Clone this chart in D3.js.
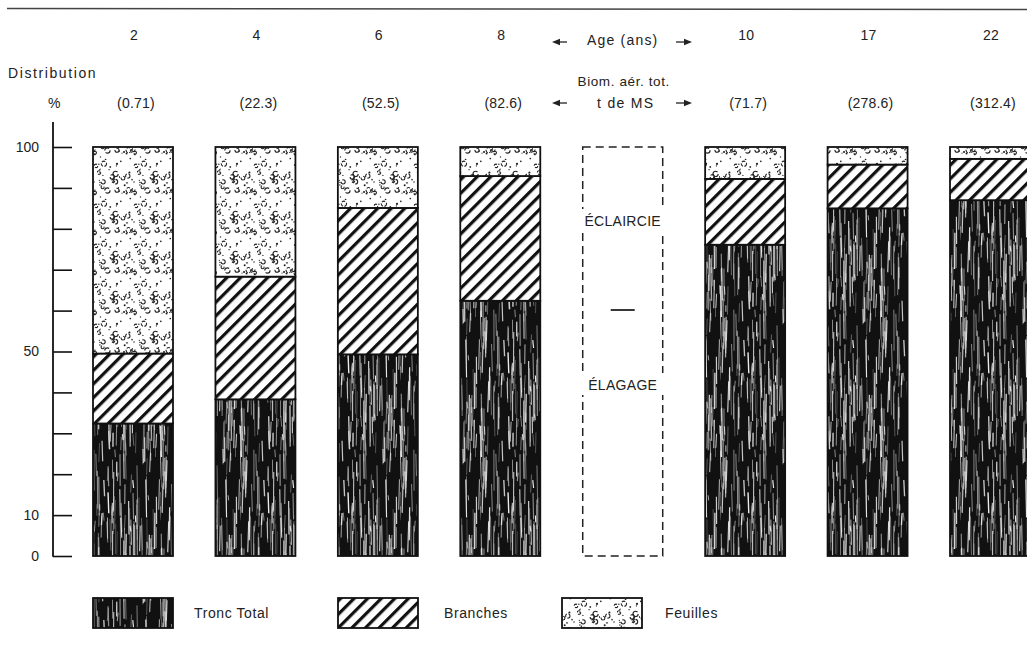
<!DOCTYPE html>
<html><head><meta charset="utf-8">
<script src="https://cdn.jsdelivr.net/npm/d3@7"></script>
<style>
body{margin:0;background:#fff;}
text{font-family:"Liberation Sans",Arial,Helvetica,sans-serif;fill:#222;}
</style></head>
<body>
<svg id="chart" width="1027" height="645"></svg>
<script>
// ---- data ----
const ages = ["2","4","6","8","10","17","22"];
const biomass = ["(0.71)","(22.3)","(52.5)","(82.6)","(71.7)","(278.6)","(312.4)"];
const tronc = [32.4, 38.3, 49.3, 62.4, 76.1, 85.0, 87.0];
const branches = [17.1, 30.0, 35.8, 30.5, 16.1, 10.7, 10.1];
const feuilles = [50.5, 31.7, 14.9, 7.1, 7.8, 4.3, 2.9];
const slots = ["2","4","6","8","gap","10","17","22"];
const yTicks = [0,10,20,30,40,50,60,70,80,90,100];
const yLabels = [0,10,50,100];
const seriesKeys = ["tronc","branches","feuilles"];
const legendLabels = ["Tronc Total","Branches","Feuilles"];

const rows = ages.map((a,i)=>({age:a, tronc:tronc[i], branches:branches[i], feuilles:feuilles[i]}));

const svg = d3.select("#chart");
svg.append("rect").attr("width",1027).attr("height",645).attr("fill","#fff");

// ---- patterns ----
const defs = svg.append("defs");
let seed = 7;
function rnd(){ seed = (seed*16807) % 2147483647; return (seed-1)/2147483646; }

// bark (tronc)
const pT = defs.append("pattern").attr("id","pTronc").attr("patternUnits","userSpaceOnUse")
  .attr("width",80).attr("height",140);
pT.append("rect").attr("width",80).attr("height",140).attr("fill","#111");
for(let k=0;k<150;k++){
  const x = rnd()*80, y = rnd()*140, len = 5+rnd()*38, w = 0.4+rnd()*1.0;
  const g = Math.floor(190+rnd()*65);
  const col = `rgb(${g},${g},${g})`, op = 0.5+rnd()*0.5, dx = (rnd()-0.5)*2;
  pT.append("line").attr("x1",x).attr("x2",x+dx).attr("y1",y).attr("y2",y+len)
    .attr("stroke",col).attr("stroke-width",w).attr("opacity",op);
  if(y+len>140){
    pT.append("line").attr("x1",x).attr("x2",x+dx).attr("y1",y-140).attr("y2",y+len-140)
      .attr("stroke",col).attr("stroke-width",w).attr("opacity",op);
  }
}

// hatch (branches)
const pB = defs.append("pattern").attr("id","pBranches").attr("patternUnits","userSpaceOnUse")
  .attr("width",9.6).attr("height",9.6).attr("patternTransform","rotate(45)");
pB.append("rect").attr("width",9.6).attr("height",9.6).attr("fill","#fff");
pB.append("rect").attr("x",0).attr("width",3.2).attr("height",9.6).attr("fill","#111");

// speckle (feuilles)
const pF = defs.append("pattern").attr("id","pFeuilles").attr("patternUnits","userSpaceOnUse")
  .attr("width",40).attr("height",40);
pF.append("rect").attr("width",40).attr("height",40).attr("fill","#fff");
seed = 11;
for(let k=0;k<16;k++){
  const cx = 3+rnd()*34, cy = 3+rnd()*34, r = 1.5+rnd()*1.2;
  pF.append("circle").attr("cx",cx).attr("cy",cy).attr("r",r)
    .attr("fill","none").attr("stroke","#222").attr("stroke-width",1.1)
    .attr("stroke-dasharray", rnd()>0.5 ? "3.5,1.5" : "6,2");
}
for(let k=0;k<34;k++){
  pF.append("circle").attr("cx",rnd()*40).attr("cy",rnd()*40).attr("r",0.5+rnd()*0.6).attr("fill","#222");
}

const fills = {tronc:"url(#pTronc)", branches:"url(#pBranches)", feuilles:"url(#pFeuilles)"};

// ---- scales ----
const x = d3.scaleBand().domain(slots).range([93,1030]).paddingInner(0.3466).paddingOuter(0);
const y = d3.scaleLinear().domain([0,100]).range([556,147]);

// top rule
svg.append("line").attr("x1",7).attr("x2",1027).attr("y1",8.5).attr("y2",9.5)
  .attr("stroke","#444").attr("stroke-width",1.4);

// ---- axis ----
const axis = d3.axisLeft(y).tickValues(yTicks).tickSizeInner(-19).tickSizeOuter(0).tickPadding(14)
  .tickFormat(d => yLabels.includes(d) ? d : "");
const ag = svg.append("g").attr("transform","translate(53,0)").call(axis);
ag.select(".domain").remove();
ag.selectAll(".tick line").attr("stroke","#111").attr("stroke-width",1.6);
ag.selectAll(".tick text").style("font-size","14px").attr("fill","#222")
  .style("font-family","'Liberation Sans',Arial,sans-serif");
svg.append("line").attr("x1",53).attr("x2",53).attr("y1",122).attr("y2",y(0)+0.8)
  .attr("stroke","#111").attr("stroke-width",1.8);

// ---- stacked bars ----
const stack = d3.stack().keys(seriesKeys)(rows);
const bars = svg.append("g");
stack.forEach(layer=>{
  bars.selectAll(null).data(layer).enter().append("rect")
    .attr("x", d=>x(d.data.age))
    .attr("width", x.bandwidth())
    .attr("y", d=>y(d[1]))
    .attr("height", d=>y(d[0])-y(d[1]))
    .attr("fill", fills[layer.key])
    .attr("stroke","#111").attr("stroke-width",1.8);
});

// ---- dashed gap box ----
const gx = x("gap"), gw = x.bandwidth();
svg.append("rect").attr("x",gx).attr("y",y(100)).attr("width",gw).attr("height",y(0)-y(100))
  .attr("fill","none").attr("stroke","#222").attr("stroke-width",1.5).attr("stroke-dasharray","8,5");
[["ÉCLAIRCIE",221],["ÉLAGAGE",385]].forEach(([t,yy])=>{
  svg.append("rect").attr("x",gx-4).attr("y",yy-12).attr("width",gw+8).attr("height",22).attr("fill","#fff");
  svg.append("text").attr("x",gx+gw/2).attr("y",yy+5).attr("text-anchor","middle")
    .style("font-size","14px").style("letter-spacing","0.3px").text(t);
});
svg.append("line").attr("x1",gx+gw/2-12).attr("x2",gx+gw/2+12).attr("y1",310).attr("y2",310)
  .attr("stroke","#222").attr("stroke-width",1.8);

// ---- header labels ----
const lbl = svg.append("g").style("font-size","14px").style("letter-spacing","0.2px");
lbl.selectAll(null).data(ages).enter().append("text")
  .attr("x", d=>x(d)+x.bandwidth()/2+1).attr("y",40).attr("text-anchor","middle").text(d=>d);
lbl.selectAll(null).data(biomass).enter().append("text")
  .attr("x", (d,i)=>x(ages[i])+x.bandwidth()/2+3).attr("y",108).attr("text-anchor","middle").text(d=>d);

svg.append("text").attr("x",8).attr("y",78).style("font-size","14px").style("letter-spacing","1.6px").text("Distribution");
svg.append("text").attr("x",48).attr("y",108).style("font-size","14px").text("%");

const midX = gx + gw/2;
svg.append("text").attr("x",midX).attr("y",45).attr("text-anchor","middle").style("font-size","14px").style("letter-spacing","1.2px").text("Age (ans)");
svg.append("text").attr("x",midX+1).attr("y",86).attr("text-anchor","middle").style("font-size","13.5px").style("letter-spacing","0.6px").text("Biom. aér. tot.");
svg.append("text").attr("x",midX+3).attr("y",108).attr("text-anchor","middle").style("font-size","14px").style("letter-spacing","1.3px").text("t de MS");

function arrow(x1,x2,yy){
  const dir = Math.sign(x2-x1);
  svg.append("line").attr("x1",x1).attr("x2",x2-dir*5).attr("y1",yy).attr("y2",yy).attr("stroke","#222").attr("stroke-width",1.3);
  svg.append("path").attr("d",`M${x2},${yy} L${x2-dir*8},${yy-3.2} L${x2-dir*8},${yy+3.2} Z`).attr("fill","#222");
}
arrow(567,552,42); arrow(676,692,42);
arrow(567,552,103); arrow(676,692,103);

// ---- legend ----
const legX = [93,338,562], legTX = [194,444,665];
const lg = svg.append("g");
seriesKeys.forEach((k,i)=>{
  lg.append("rect").attr("x",legX[i]).attr("y",598).attr("width",80).attr("height",30)
    .attr("fill",fills[k]).attr("stroke","#111").attr("stroke-width",1.8);
  lg.append("text").attr("x",legTX[i]).attr("y",618).style("font-size","14px").style("letter-spacing","0.6px").text(legendLabels[i]);
});
</script>
</body></html>
